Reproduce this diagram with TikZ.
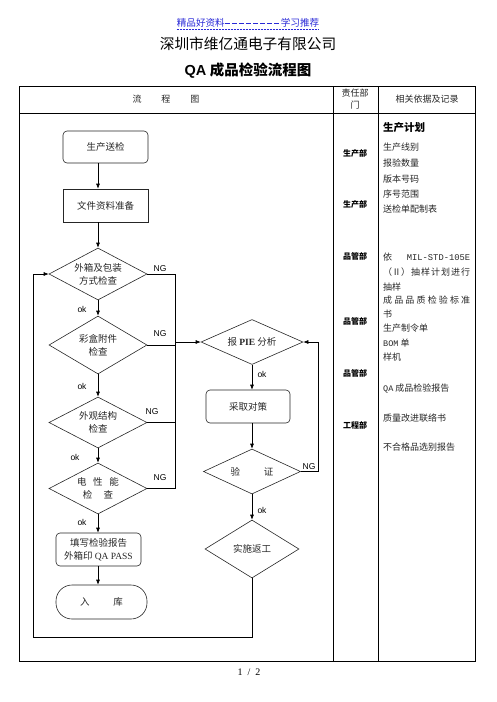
\documentclass[tikz,border=0pt]{standalone}
\usepackage{fontspec}
\setmainfont{Noto Sans CJK SC}
\newfontfamily\lser{Liberation Serif}
\newfontfamily\lsans{Liberation Sans}
\newfontfamily\lmono{Liberation Mono}
\usetikzlibrary{shapes.geometric,arrows.meta}
\definecolor{linkblue}{RGB}{40,40,215}
\newcommand\dsh{\rule[3pt]{5.4pt}{0.7pt}\hspace{1.6pt}}
\begin{document}
\begin{tikzpicture}[x=1pt,y=-1pt,
  tline/.style={line width=0.8pt},
  fl/.style={draw=black!85, line width=0.6pt, font=\fontsize{9.5}{13}\selectfont, text=black!85, align=center, inner sep=0pt},
  rbox/.style={fl, rounded corners=4pt},
  pbox/.style={fl},
  dia/.style={fl, diamond},
  arr/.style={-{Latex[length=5pt,width=4pt]}, line width=0.6pt},
  ln/.style={line width=0.6pt},
  lab/.style={font=\lsans\fontsize{8.5}{10}\selectfont, inner sep=0pt},
  dept/.style={font=\bfseries\fontsize{8}{10}\selectfont, inner sep=0pt},
  rec/.style={anchor=west, font=\fontsize{9}{11}\selectfont, text=black!85, inner sep=0pt},
  hd/.style={font=\fontsize{9}{12}\selectfont, text=black!85, align=center, inner sep=0pt},
]
\useasboundingbox (0,0) rectangle (496,702);

% titles
\node[inner sep=0pt, font=\fontsize{9.6}{10}\selectfont, text=linkblue] (top) at (248,23) {精品好资料\dsh\dsh\dsh\dsh\dsh\dsh\dsh\dsh 学习推荐};
\draw[linkblue, line width=0.5pt, dash pattern=on 2pt off 1pt] ([yshift=-1.5pt]top.south west) -- ([yshift=-1.5pt]top.south east);
\node[inner sep=0pt, font=\fontsize{14.7}{16}\selectfont] (co) at (248,44) {深圳市维亿通电子有限公司};
\node[inner sep=0pt, font=\bfseries\fontsize{14.5}{16}\selectfont] (tt) at (248,71) {{\lsans\bfseries QA} 成品检验流程图};
\node[inner sep=0pt, font=\lser\fontsize{10}{12}\selectfont] (pg) at (249,672) {1\hspace{0.5em}/\hspace{0.5em}2};

% table
\draw[tline] (19,86) rectangle (475,661);
\draw[tline] (19,113) -- (475,113);
\draw[tline] (333,86) -- (333,661);
\draw[tline] (378,86) -- (378,661);
\node[hd] (h1) at (166,99) {流\hspace{2.2em}程\hspace{2.2em}图};
\node[hd] (h2) at (355,99) {责任部\\门};
\node[hd] (h3) at (427,99) {相关依据及记录};

% departments
\node[dept] (p1) at (355,153) {生产部};
\node[dept] (p2) at (355,204) {生产部};
\node[dept] (p3) at (355,256) {品管部};
\node[dept] (p4) at (355,321) {品管部};
\node[dept] (p5) at (355,373) {品管部};
\node[dept] (p6) at (355,425) {工程部};

% records
\node[rec, font=\bfseries\fontsize{10.5}{12}\selectfont, text=black] (r0) at (383,128) {生产计划};
\node[rec] (r1) at (383,147) {生产线别};
\node[rec] (r2) at (383,163) {报验数量};
\node[rec] (r3) at (383,179) {版本号码};
\node[rec] (r4) at (383,194) {序号范围};
\node[rec] (r5) at (383,209) {送检单配制表};
\node[rec] (r6) at (383,257) {\makebox[87pt][s]{依\hfill{\lmono\fontsize{8.8}{10}\selectfont MIL-STD-105E}}};
\node[rec] (r7) at (383,272) {\makebox[87pt][s]{（Ⅱ）\hfill 抽\hfill 样\hfill 计\hfill 划\hfill 进\hfill 行}};
\node[rec] (r8) at (383,287) {抽样};
\node[rec] (r9) at (383,300) {\makebox[87pt][s]{成\hfill 品\hfill 品\hfill 质\hfill 检\hfill 验\hfill 标\hfill 准}};
\node[rec] (r10) at (383,314) {书};
\node[rec] (r11) at (383,328) {生产制令单};
\node[rec] (r12) at (383,343) {{\lmono\fontsize{8.5}{10}\selectfont BOM} 单};
\node[rec] (r13) at (383,357) {样机};
\node[rec] (r14) at (383,388) {{\lmono\fontsize{8.5}{10}\selectfont QA} 成品检验报告};
\node[rec] (r15) at (383,418) {质量改进联络书};
\node[rec] (r16) at (383,447) {不合格品选别报告};

% left flow
\node[rbox, minimum width=85pt, minimum height=32pt] (start) at (105.5,147) {生产送检};
\node[pbox, minimum width=85pt, minimum height=33pt] (prep) at (105.5,205.5) {文件资料准备};
\node[dia, minimum width=98pt, minimum height=52pt, aspect=1.88] (d1) at (98,274) {外箱及包装\\方式检查};
\node[dia, minimum width=98pt, minimum height=58pt, aspect=1.7] (d2) at (98,345) {彩盒附件\\检查};
\node[dia, minimum width=98pt, minimum height=51pt, aspect=1.92] (d3) at (98,422.5) {外观结构\\检查};
\node[dia, minimum width=98pt, minimum height=51pt, aspect=1.92] (d4) at (98,488.5) {电\hspace{0.7em}性\hspace{0.7em}能\\检\hspace{1.2em}查};
\node[rbox, minimum width=85pt, minimum height=33pt] (report) at (98.5,549.5) {填写检验报告\\外箱印 {\lser QA PASS}};
\node[fl, rounded corners=16pt, minimum width=91pt, minimum height=34pt] (store) at (101.5,602) {入\hspace{2.5em}库};

\draw[arr] (start.south -| d1.north) -- (prep.north -| d1.north);
\draw[arr] (prep.south -| d1.north) -- (d1.north);
\draw[arr] (d1.south) -- (d2.north);
\draw[arr] (d2.south) -- (d3.north);
\draw[arr] (d3.south) -- (d4.north);
\draw[arr] (d4.south) -- (report.north -| d4.south);
\draw[arr] (report.south -| d4.south) -- (store.north -| d4.south);

\node[lab] (ok1) at (82,309) {ok};
\node[lab] (ok2) at (82,386) {ok};
\node[lab] (ok3) at (75,457) {ok};
\node[lab] (ok4) at (82,522) {ok};
\node[lab] (ng1) at (160,269) {NG};
\node[lab] (ng2) at (160,334) {NG};
\node[lab] (ng3) at (152,412) {NG};
\node[lab] (ng4) at (160,478) {NG};

% right flow
\node[dia, minimum width=102pt, minimum height=45pt, aspect=2.27] (pie) at (252,342) {报 {\lser\bfseries PIE} 分析};
\node[rbox, minimum width=84pt, minimum height=33pt] (act) at (248,406.5) {采取对策};
\node[dia, minimum width=97pt, minimum height=45pt, aspect=2.15] (ver) at (252,471.5) {验\hspace{2.5em}证};
\node[dia, minimum width=94pt, minimum height=58pt, aspect=1.62] (fix) at (252,549) {实施返工};

\draw[arr] (pie.south) -- (pie.south |- act.north);
\draw[arr] (pie.south |- act.south) -- (ver.north);
\draw[arr] (ver.south) -- (fix.north);
\node[lab] (ok5) at (262,374) {ok};
\node[lab] (ok6) at (262,510) {ok};
\node[lab] (ng5) at (309,467) {NG};

% NG collector
\coordinate (ngx) at (175,0);
\draw[ln] (d1.east) -- (d1.east -| ngx) -- (d4.east -| ngx) -- (d4.east);
\draw[ln] (d3.east) -- (d3.east -| ngx);
\draw[arr] (d2.east) -- (d2.east -| ngx) |- (pie.west);

% verify NG loop
\coordinate (vx) at (318,0);
\draw[arr] (ver.east) -- (ver.east -| vx) -- (pie.east -| vx) -- (pie.east);

% rework loop
\coordinate (lb) at (33,637);
\draw[arr] (fix.south) -- (fix.south |- lb) -- (lb) -- (lb |- d1.west) -- (d1.west);
\end{tikzpicture}
\end{document}
